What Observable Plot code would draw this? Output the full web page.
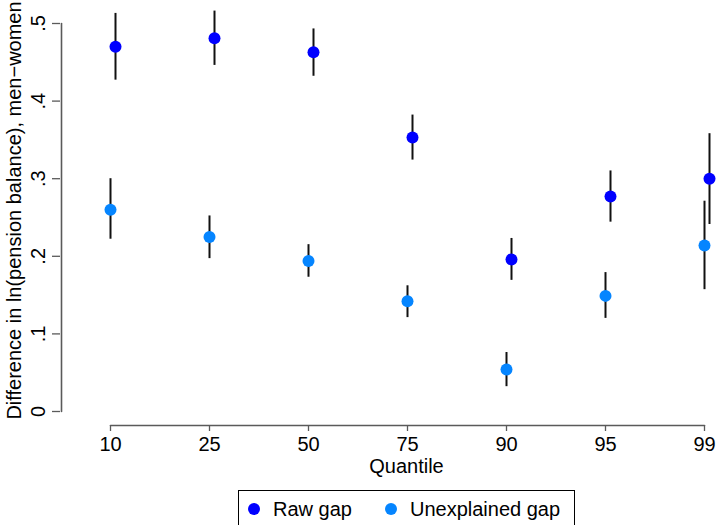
<!DOCTYPE html>
<html>
<head>
<meta charset="utf-8">
<script src="https://cdn.jsdelivr.net/npm/d3@7"></script>
<script src="https://cdn.jsdelivr.net/npm/@observablehq/plot@0.6"></script>
<style>
  body { margin: 0; background: #fff; font-family: "Liberation Sans", Arial, sans-serif; }
  #chart svg { display: block; }
  .legend {
    margin-left: 238px; margin-top: 5px; width: 335px; height: 40px;
    border: 1px solid #000; box-sizing: content-box;
    display: flex; align-items: flex-start; padding-top: 0;
    font-size: 20px; color: #000;
  }
  .item { display: flex; align-items: center; height: 20px; margin-top: 8px; }
  .dot { width: 12px; height: 12px; border-radius: 50%; display: inline-block; }
</style>
</head>
<body>
<div id="chart"></div>
<div class="legend" id="legend"></div>
<script>
const quantiles = ["10", "25", "50", "75", "90", "95", "99"];
const rawGap  = [0.470, 0.481, 0.463, 0.353, 0.196, 0.277, 0.300];
const rawLo   = [0.427, 0.446, 0.432, 0.324, 0.169, 0.244, 0.241];
const rawHi   = [0.513, 0.516, 0.493, 0.382, 0.223, 0.310, 0.358];
const unexpGap = [0.260, 0.225, 0.194, 0.142, 0.054, 0.149, 0.214];
const unexpLo  = [0.222, 0.197, 0.173, 0.121, 0.032, 0.120, 0.157];
const unexpHi  = [0.300, 0.252, 0.215, 0.162, 0.076, 0.179, 0.271];
const yTicks = [0, 0.1, 0.2, 0.3, 0.4, 0.5];
const seriesNames = ["Raw gap", "Unexplained gap"];
const seriesColors = ["#0000ff", "#0585ff"];
const xLabel = "Quantile";
const yLabel = "Difference in ln(pension balance), men\u2212women";

const raw = quantiles.map((q, i) => ({q, v: rawGap[i], lo: rawLo[i], hi: rawHi[i]}));
const unexp = quantiles.map((q, i) => ({q, v: unexpGap[i], lo: unexpLo[i], hi: unexpHi[i]}));
const fmt = d => d === 0 ? "0" : d3.format(".1f")(d).replace(/^0/, "");
const axisColor = "#5a5a5a";

const chart = Plot.plot({
  width: 716,
  height: 485,
  marginTop: 23,
  marginBottom: 60,
  marginLeft: 60,
  marginRight: 12,
  style: {fontFamily: "Liberation Sans, Arial, sans-serif", fontSize: "20px", color: "#000", background: "#fff"},
  x: {type: "point", domain: quantiles, padding: 0, insetLeft: 49, insetRight: 0},
  y: {domain: [0, 0.5], insetBottom: 14},
  marks: [
    // axis lines
    Plot.line(yTicks, {x: () => quantiles[0], y: d => d, dx: -49, stroke: axisColor, strokeWidth: 1.6}),
    Plot.line(quantiles, {x: d => d, y: () => yTicks[0], dy: 14, stroke: axisColor, strokeWidth: 1.6}),
    Plot.axisY({ticks: yTicks, tickFormat: fmt, tickSize: 8, tickRotate: -90, tickPadding: 8,
      stroke: axisColor, fill: "#000", label: null, strokeWidth: 1.3}),
    Plot.axisX({tickSize: 6, tickPadding: 5, stroke: axisColor, fill: "#000", label: null, strokeWidth: 1.3}),
    Plot.text([yLabel], {frameAnchor: "left", rotate: -90, dx: -46, dy: -14,
      textAnchor: "middle", lineAnchor: "middle", fill: "#000"}),
    Plot.text([xLabel], {frameAnchor: "bottom", dx: 24, dy: 41,
      textAnchor: "middle", lineAnchor: "middle", fill: "#000"}),
    // error bars
    Plot.ruleX(raw, {x: "q", y1: "lo", y2: "hi", dx: 5, stroke: "#111", strokeWidth: 2}),
    Plot.ruleX(unexp, {x: "q", y1: "lo", y2: "hi", stroke: "#111", strokeWidth: 2}),
    // points
    Plot.dot(raw, {x: "q", y: "v", dx: 5, r: 6, fill: seriesColors[0], stroke: "none"}),
    Plot.dot(unexp, {x: "q", y: "v", r: 6, fill: seriesColors[1], stroke: "none"})
  ]
});
document.getElementById("chart").appendChild(chart);

const legend = document.getElementById("legend");
const margins = [9, 33];
seriesNames.forEach((name, i) => {
  const item = document.createElement("div");
  item.className = "item";
  item.style.marginLeft = margins[i] + "px";
  const dot = document.createElement("span");
  dot.className = "dot";
  dot.style.background = seriesColors[i];
  const label = document.createElement("span");
  label.textContent = name;
  label.style.marginLeft = "13px";
  item.appendChild(dot);
  item.appendChild(label);
  legend.appendChild(item);
});
</script>
</body>
</html>
